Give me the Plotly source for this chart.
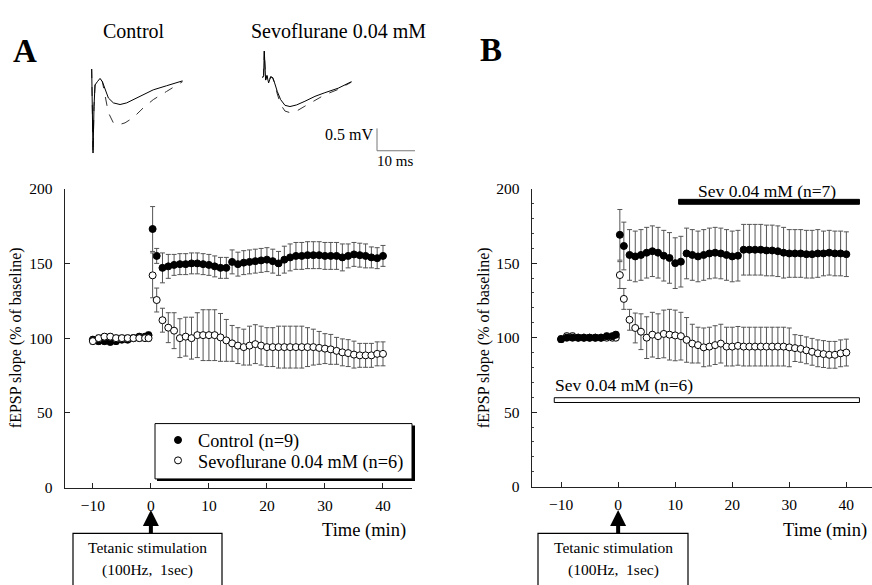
import plotly.graph_objects as go

W, H = 872, 585
def px(x): return x / W
def py(y): return 1 - y / H

FONT = "Liberation Serif, Times New Roman, serif"

# ---------------- data ----------------
t_base = [-10, -9, -8, -7, -6, -5, -4, -3, -2, -1, -0.4]
t_post = [0.3, 1, 2, 3, 4, 5, 6, 7, 8, 9, 10, 11, 12, 13, 14, 15, 16, 17, 18, 19, 20,
          21, 22, 23, 24, 25, 26, 27, 28, 29, 30, 31, 32, 33, 34, 35, 36, 37, 38, 39, 40]
time_min = t_base + t_post

# Panel A
ctrlA_base = [99, 98, 98, 97.5, 98, 99, 99, 100, 101, 101, 102]
ctrlA_post = [173, 155, 147, 148, 149, 149.5, 149.5, 150, 150, 149.5, 149, 148, 147, 147, 151,
              149.5, 150.5, 151, 151.5, 152, 152.5, 151.5, 150, 152.5, 154, 155, 155, 155.5,
              155.5, 155.5, 155, 155, 155, 154, 155, 156, 155.5, 155, 154, 153.5, 155]
ctrlA_err = [2, 2, 2, 2, 2, 2, 2, 2, 2, 2, 2,
             15, 5, 10, 8, 7, 7, 7, 7, 7, 7, 7, 7, 7, 7, 8, 8, 8, 8, 8, 8, 8, 8, 8, 9, 9,
             9, 9, 9, 9, 9, 9, 9, 9, 9, 8, 8, 8, 8, 7, 7, 7, 7]
sevoA_base = [98, 100, 101, 101, 100, 100, 100, 100, 100, 100, 100]
sevoA_post = [142, 125.5, 112, 107, 105, 100, 101, 100, 102, 102, 102, 102, 100.5, 98.5, 96.5,
              95, 94, 95, 96, 95, 94, 94, 94, 94, 94, 94, 94, 94, 94, 93.5, 93, 92.5, 91.5,
              90.5, 90, 89, 88.5, 88.5, 88.5, 89.5, 89.5]
sevoA_err = [2, 2, 2, 2, 2, 2, 2, 2, 2, 2, 2,
             15, 8, 8, 10, 12, 13, 13, 14, 15, 17, 17, 17, 16, 14, 12, 12, 12, 13, 13, 13,
             13, 13, 14, 14, 14, 14, 14, 13, 12, 11, 10, 10, 9, 9, 9, 9, 8, 8, 8, 8, 8]

# Panel B
ctrlB_base = [99, 100, 100, 100, 100, 100, 100, 100, 101, 101, 102]
ctrlB_post = [169, 161.5, 155.5, 154.5, 155.5, 157, 158, 157, 155, 153.5, 150, 151, 156.5,
              155.5, 154.5, 155.5, 156.5, 157, 156.5, 155.5, 154.5, 155, 159, 159, 159, 159,
              158.5, 158.5, 158, 157, 156.5, 156.5, 156.5, 156, 156, 156.5, 156.5, 157,
              156.5, 156.5, 156]
ctrlB_err = [2, 2, 2, 2, 2, 2, 2, 2, 2, 2, 2,
             17, 16, 17, 17, 17, 17, 17, 17, 17, 17, 17, 17, 17, 17, 17, 17, 17, 17, 17, 17,
             17, 17, 17, 17, 17, 17, 17, 17, 17, 17, 16, 16, 16, 16, 16, 16, 15, 15, 15, 15, 15]
sevoB_base = [99, 101, 101, 100, 100, 100, 100, 100, 100, 100, 100]
sevoB_post = [142, 126, 112, 106.5, 104, 100, 102, 101, 102.5, 102, 101.5, 101, 98.5, 96, 95,
              93.5, 94, 95, 96, 94, 94, 94.5, 94, 94, 94, 94, 94, 94, 94, 94, 93.5, 93, 92.5,
              91.5, 90.5, 89.5, 89, 88.5, 88.5, 89.5, 90]
sevoB_err = [2, 2, 2, 2, 2, 2, 2, 2, 2, 2, 2,
             9, 7, 7, 10, 12, 14, 15, 15, 16, 17, 17, 16, 15, 13, 12, 13, 13, 13, 13, 13,
             13, 13, 13, 13, 13, 13, 13, 13, 13, 13, 13, 9, 9, 9, 9, 9, 9, 9, 9, 9, 9]

# Sample fEPSP traces (ms, mV)
ctrl_tr_t = [0, 0.18, 0.35, 0.61, 0.88, 1.49, 2.19, 2.81, 3.51, 4.39, 5.70, 7.46, 9.21,
             10.96, 13.6, 16.2, 19.7, 23.9]
ctrl_tr_before = [0.29, -0.62, -1.77, -0.62, -0.10, -0.02, 0.06, -0.02, -0.22, -0.42, -0.54,
                  -0.58, -0.54, -0.46, -0.34, -0.22, -0.12, 0]
ctrl_tr_after_t = [0, 0.18, 0.35, 0.61, 0.88, 1.49, 2.19, 2.81, 3.51, 4.39, 5.70, 7.02, 8.77,
                   10.96, 13.6, 16.2, 19.7, 23.9]
ctrl_tr_after = [0.29, -0.62, -1.77, -0.62, -0.10, -0.02, 0.06, -0.02, -0.32, -0.78, -1.03,
                 -1.08, -1.03, -0.90, -0.66, -0.46, -0.26, -0.02]
sevo_tr_t = [-0.18, 0.09, 0.26, 0.44, 0.61, 0.96, 1.40, 1.93, 2.46, 2.98, 3.68, 4.56, 5.70,
             7.02, 8.77, 10.96, 13.6, 16.2, 19.7, 23.2]
sevo_tr_before = [0.08, 0.13, 0.73, 0.13, 0.02, 0.13, -0.05, 0.10, 0.08, -0.05, -0.26, -0.46,
                  -0.60, -0.63, -0.59, -0.50, -0.38, -0.29, -0.18, -0.02]
sevo_tr_after = [0.08, 0.13, 0.73, 0.13, 0.02, 0.13, -0.05, 0.10, 0.08, -0.05, -0.32, -0.58,
                 -0.74, -0.78, -0.74, -0.62, -0.48, -0.34, -0.21, -0.03]

y_ticks = [0, 50, 100, 150, 200]
x_ticks = [-10, 0, 10, 20, 30, 40]

# ---------------- figure ----------------
fig = go.Figure()

def err(arr):
    return dict(type="data", array=arr, visible=True, color="#555", thickness=1, width=2.5)

filled = dict(symbol="circle", size=7, color="black", line=dict(color="black", width=1))
opened = dict(symbol="circle", size=7, color="white", line=dict(color="black", width=1))

fig.add_trace(go.Scatter(x=time_min, y=ctrlA_base + ctrlA_post, error_y=err(ctrlA_err),
                         mode="markers", marker=filled, name="Control (n=9)",
                         xaxis="x", yaxis="y", showlegend=True, legend="legend"))
fig.add_trace(go.Scatter(x=time_min, y=sevoA_base + sevoA_post, error_y=err(sevoA_err),
                         mode="markers", marker=opened, name="Sevoflurane 0.04 mM (n=6)",
                         xaxis="x", yaxis="y", showlegend=True, legend="legend2"))
fig.add_trace(go.Scatter(x=time_min, y=sevoB_base + sevoB_post, error_y=err(sevoB_err),
                         mode="markers", marker=opened, name="Sev 0.04 mM (n=6)",
                         xaxis="x2", yaxis="y2", showlegend=False))
fig.add_trace(go.Scatter(x=time_min, y=ctrlB_base + ctrlB_post, error_y=err(ctrlB_err),
                         mode="markers", marker=filled, name="Sev 0.04 mM (n=7)",
                         xaxis="x2", yaxis="y2", showlegend=False))

# traces insets
fig.add_trace(go.Scatter(x=ctrl_tr_after_t, y=ctrl_tr_after, mode="lines",
                         line=dict(color="#333", width=1, dash="dash"),
                         xaxis="x3", yaxis="y3", showlegend=False))
fig.add_trace(go.Scatter(x=ctrl_tr_t, y=ctrl_tr_before, mode="lines",
                         line=dict(color="black", width=1),
                         xaxis="x3", yaxis="y3", showlegend=False))
fig.add_trace(go.Scatter(x=sevo_tr_t, y=sevo_tr_after, mode="lines",
                         line=dict(color="#333", width=1, dash="dash"),
                         xaxis="x4", yaxis="y4", showlegend=False))
fig.add_trace(go.Scatter(x=sevo_tr_t, y=sevo_tr_before, mode="lines",
                         line=dict(color="black", width=1),
                         xaxis="x4", yaxis="y4", showlegend=False))

tickfont = dict(family=FONT, size=15.5, color="black")
common_x = dict(tickvals=x_ticks, ticks="inside", ticklen=5, tickwidth=1, tickcolor="#222",
                showline=True, linecolor="#222", linewidth=1.5, showgrid=False,
                zeroline=False, tickfont=tickfont, ticklabelstandoff=3)
common_y = dict(tickvals=y_ticks, range=[0, 200], ticks="inside", ticklen=5, tickwidth=1,
                tickcolor="#222", showline=True, linecolor="#222", linewidth=1.5,
                showgrid=False, zeroline=False, tickfont=tickfont, ticklabelstandoff=8)
inset = dict(visible=False, showgrid=False, zeroline=False, fixedrange=True)
legfont = dict(family=FONT, size=18.3, color="black")

fig.update_layout(
    width=W, height=H, margin=dict(l=0, r=0, t=0, b=0),
    paper_bgcolor="white", plot_bgcolor="rgba(0,0,0,0)",
    font=dict(family=FONT, color="black"),
    xaxis=dict(domain=[px(65), px(412)], range=[-14.8, 45], anchor="y", **common_x),
    yaxis=dict(domain=[py(493), py(185)], anchor="x", **common_y),
    xaxis2=dict(domain=[px(532), px(872)], range=[-15.1, 44.5], anchor="y2", **common_x),
    yaxis2=dict(domain=[py(492), py(185)], anchor="x2",
                minor=dict(dtick=10, ticks="inside", ticklen=2, tickcolor="#444"),
                **common_y),
    xaxis3=dict(domain=[px(85), px(190)], range=[-1.763, 25.868], anchor="y3", **inset),
    yaxis3=dict(domain=[py(152), py(40)], range=[-1.857, 0.810], anchor="x3", **inset),
    xaxis4=dict(domain=[px(255), px(360)], range=[-2.184, 25.447], anchor="y4", **inset),
    yaxis4=dict(domain=[py(152), py(40)], range=[-1.857, 0.810], anchor="x4", **inset),
    legend=dict(x=px(158), y=py(444), xanchor="left", yanchor="middle",
                bgcolor="rgba(0,0,0,0)", borderwidth=0, font=legfont),
    legend2=dict(x=px(158), y=py(465), xanchor="left", yanchor="middle",
                 bgcolor="rgba(0,0,0,0)", borderwidth=0, font=legfont),
)

shapes = [
    # legend box with shadow
    dict(type="rect", xref="paper", yref="paper", x0=px(157), x1=px(415), y0=py(486), y1=py(429),
         fillcolor="black", line=dict(width=0), layer="below"),
    dict(type="rect", xref="paper", yref="paper", x0=px(155), x1=px(412), y0=py(484), y1=py(427),
         fillcolor="white", line=dict(color="black", width=1), layer="below"),
    # scale bar
    dict(type="line", xref="paper", yref="paper", x0=px(377), x1=px(377), y0=py(123), y1=py(146),
         line=dict(color="#777", width=1)),
    dict(type="line", xref="paper", yref="paper", x0=px(377), x1=px(415), y0=py(146), y1=py(146),
         line=dict(color="#777", width=1)),
    # tetanic stimulation boxes
    dict(type="rect", xref="paper", yref="paper", x0=px(73), x1=px(222), y0=py(600), y1=py(540),
         fillcolor="white", line=dict(color="black", width=1.2)),
    dict(type="rect", xref="paper", yref="paper", x0=px(538), x1=px(688), y0=py(600), y1=py(540),
         fillcolor="white", line=dict(color="black", width=1.2)),
    # application bars in panel B
    dict(type="rect", xref="x2", yref="y2", x0=10.6, x1=42.3, y0=189.5, y1=192.8,
         fillcolor="black", line=dict(color="black", width=1)),
    dict(type="rect", xref="x2", yref="y2", x0=-11.2, x1=42.3, y0=56.5, y1=59.7,
         fillcolor="white", line=dict(color="black", width=1)),
]
fig.update_layout(shapes=shapes)

def txt(text, x, y, size=16.5, xanchor="center", bold=False, angle=0):
    return dict(text=("<b>%s</b>" % text) if bold else text, x=px(x), y=py(y),
                xref="paper", yref="paper", xanchor=xanchor, yanchor="middle",
                showarrow=False, textangle=angle,
                font=dict(family=FONT, size=size, color="black"))

ann = [
    txt("A", 25, 43, size=33, bold=True),
    txt("B", 491, 42, size=33, bold=True),
    txt("Control", 134, 23, size=20),
    txt("Sevoflurane 0.04 mM", 338, 23, size=20),
    txt("0.5 mV", 375, 129, size=16, xanchor="right"),
    txt("10 ms", 395, 157, size=15),
    txt("Time (min)", 408, 537, size=18.5, xanchor="right"),
    txt("Time (min)", 869, 537, size=18.5, xanchor="right"),
    txt("fEPSP slope (% of baseline)", 16, 339, size=16, angle=-90),
    txt("fEPSP slope (% of baseline)", 484, 339, size=16, angle=-90),
    txt("Tetanic stimulation", 147, 555, size=15.5),
    txt("(100Hz,  1sec)", 147, 578, size=15.5),
    txt("Tetanic stimulation", 613, 555, size=15.5),
    txt("(100Hz,  1sec)", 613, 578, size=15.5),
    txt("Sev 0.04 mM (n=7)", 767, 187, size=17.5),
    txt("Sev 0.04 mM (n=6)", 553, 387, size=17.5, xanchor="left"),
    dict(text="", x=0, y=py(516), xref="x", yref="paper", ax=0, ay=25,
         showarrow=True, arrowhead=2, arrowsize=0.8, arrowwidth=4, arrowcolor="black"),
    dict(text="", x=0, y=py(516), xref="x2", yref="paper", ax=0, ay=25,
         showarrow=True, arrowhead=2, arrowsize=0.8, arrowwidth=4, arrowcolor="black"),
]
fig.update_layout(annotations=ann)

post = (
    "document.documentElement.style.margin='0';document.documentElement.style.padding='0';"
    "document.documentElement.style.overflow='hidden';"
    "document.body.style.margin='0';document.body.style.padding='0';"
    "document.body.style.overflow='hidden';"
    "var d=document.getElementById('{plot_id}');"
    "d.style.position='fixed';d.style.top='0px';d.style.left='0px';"
)
fig.write_html("out.html", config={"displayModeBar": False, "staticPlot": True},
               post_script=post)
